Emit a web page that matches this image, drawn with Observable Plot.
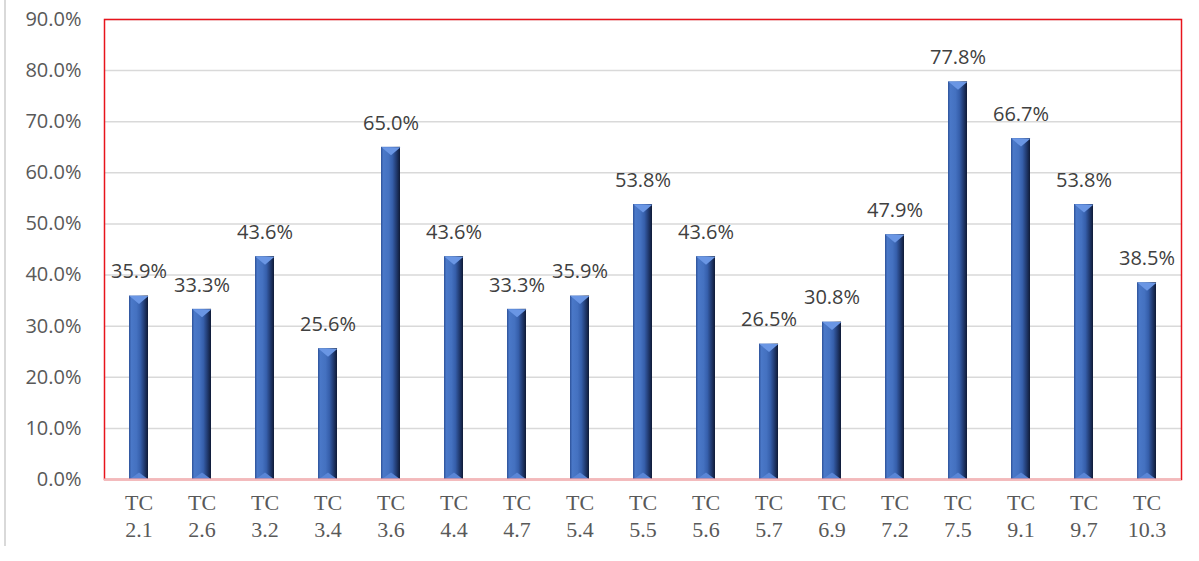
<!DOCTYPE html>
<html>
<head>
<meta charset="utf-8">
<script src="https://cdn.jsdelivr.net/npm/d3@7"></script>
<script src="https://cdn.jsdelivr.net/npm/@observablehq/plot@0.6"></script>
<style>
  html, body { margin: 0; padding: 0; background: #fff; }
  #wrap { position: relative; width: 1199px; height: 561px; overflow: hidden; }
  #edge { position: absolute; left: 4px; top: 0; width: 2px; height: 546px; background: #d9d9d9; }
  #chart { position: absolute; left: 0; top: 0; }
</style>
</head>
<body>
<div id="wrap"><div id="edge"></div><div id="chart"></div></div>
<script>
const categories = ["2.1","2.6","3.2","3.4","3.6","4.4","4.7","5.4","5.5","5.6","5.7","6.9","7.2","7.5","9.1","9.7","10.3"];
const values = [0.359,0.333,0.436,0.256,0.650,0.436,0.333,0.359,0.538,0.436,0.265,0.308,0.479,0.778,0.667,0.538,0.385];
const yTicks = [0,0.1,0.2,0.3,0.4,0.5,0.6,0.7,0.8,0.9];

const data = categories.map((c, i) => ({cat: c, value: values[i]}));
const pct = d3.format(".1%");

const topBevel = { draw(ctx) { ctx.moveTo(-9.5, 0); ctx.lineTo(9.5, 0); ctx.lineTo(0, 8); ctx.closePath(); } };
const bottomBevel = { draw(ctx) { ctx.moveTo(-9.5, 0); ctx.lineTo(9.5, 0); ctx.lineTo(0, -7); ctx.closePath(); } };

const chart = Plot.plot({
  width: 1199,
  height: 561,
  marginLeft: 104,
  marginRight: 18,
  marginTop: 19,
  marginBottom: 82,
  style: { fontFamily: "'Open Sans', sans-serif", background: "transparent", overflow: "visible" },
  x: { domain: categories, paddingInner: 0.7, paddingOuter: 0.35, label: null },
  y: { domain: [0, 0.9], label: null },
  marks: [
    Plot.gridY(yTicks, { stroke: "#d9d9d9", strokeOpacity: 1, strokeWidth: 1.5 }),
    Plot.axisY(yTicks, { tickFormat: pct, tickSize: 0, tickPadding: 23, fontSize: 20, fill: "#595959", label: null }),
    Plot.axisX({ tickFormat: d => "TC\n" + d, tickSize: 0, tickPadding: 12, fontSize: 22, fill: "#595959", fontFamily: "'Liberation Serif', serif", lineHeight: 1.2, label: null }),
    Plot.barY(data, { x: "cat", y: "value", fill: "url(#barGrad)" }),
    Plot.dot(data, { x: "cat", y: "value", symbol: topBevel, fill: "#6a96e4", stroke: "none", r: 5 }),
    Plot.dot(data, { x: "cat", y: () => 0, symbol: bottomBevel, fill: "#5a86d6", stroke: "none", r: 5 }),
    Plot.frame({ stroke: "#e8141c", strokeWidth: 1.5 }),
    Plot.ruleY([0], { stroke: "#f3b9bb", strokeWidth: 2 }),
    Plot.text(data, { x: "cat", y: "value", text: d => pct(d.value), dy: -24, lineAnchor: "middle", fontSize: 20, fill: "#404040" })
  ]
});

const svgNS = "http://www.w3.org/2000/svg";
const defs = document.createElementNS(svgNS, "defs");
const grad = document.createElementNS(svgNS, "linearGradient");
grad.setAttribute("id", "barGrad");
grad.setAttribute("x1", "0"); grad.setAttribute("x2", "1");
grad.setAttribute("y1", "0"); grad.setAttribute("y2", "0");
[["0%","#2d5198"],["12%","#4a78c8"],["40%","#4471c0"],["60%","#365fab"],["80%","#223c73"],["100%","#0f1a36"]].forEach(([o,c]) => {
  const s = document.createElementNS(svgNS, "stop");
  s.setAttribute("offset", o); s.setAttribute("stop-color", c);
  grad.appendChild(s);
});
defs.appendChild(grad);
chart.insertBefore(defs, chart.firstChild);

document.getElementById("chart").appendChild(chart);
</script>
</body>
</html>
